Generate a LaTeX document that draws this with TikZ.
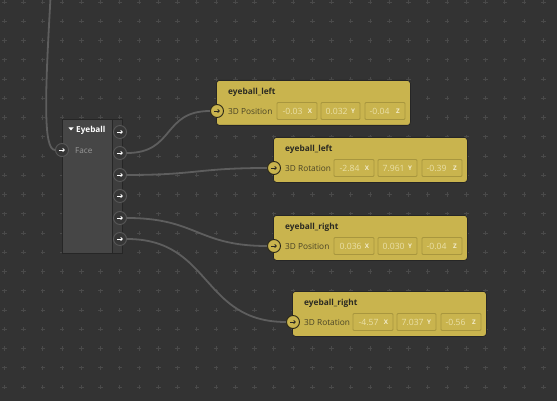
\documentclass[tikz,border=0pt]{standalone}
\usepackage{fontspec}
\setmainfont{Open Sans}
\usetikzlibrary{arrows.meta}
\definecolor{bg}{HTML}{333333}
\definecolor{gridc}{HTML}{4A4A4A}
\definecolor{wirec}{HTML}{5E5E5E}
\definecolor{nodebody}{HTML}{464646}
\definecolor{nodestrip}{HTML}{3D3D3D}
\definecolor{nodeedge}{HTML}{262626}
\definecolor{sockfill}{HTML}{363636}
\definecolor{sockedge}{HTML}{585858}
\definecolor{yel}{HTML}{C9B44E}
\definecolor{yeledge}{HTML}{2A2718}
\definecolor{yfieldedge}{HTML}{A8963E}
\definecolor{ytext}{HTML}{2B2A22}
\definecolor{ylab}{HTML}{4A4426}
\definecolor{yval}{HTML}{EAE0A8}
\definecolor{yaxis}{HTML}{F2ECCC}
\tikzset{
  wire/.style={draw=wirec, line width=1.8pt},
  gridcross/.style={draw=gridc, line width=0.8pt},
  sock/.style={circle, minimum size=13pt, inner sep=0pt, draw=sockedge, fill=sockfill, line width=0.9pt,
    path picture={\draw[white, line width=0.8pt, -{Straight Barb[length=1.6pt,width=3.2pt]}]
      ([xshift=-2.8pt]path picture bounding box.center) -- ([xshift=2.8pt]path picture bounding box.center);}},
  ysock/.style={circle, minimum size=13pt, inner sep=0pt, draw=yeledge, fill=yel, line width=0.9pt,
    path picture={\draw[ytext, line width=0.8pt, -{Straight Barb[length=1.6pt,width=3.2pt]}]
      ([xshift=-2.8pt]path picture bounding box.center) -- ([xshift=2.8pt]path picture bounding box.center);}},
  ybody/.style={rectangle, rounded corners=3pt, minimum width=194pt, minimum height=45pt, inner sep=0pt,
    fill=yel, draw=nodeedge, line width=0.8pt, anchor=north west},
  ytitle/.style={anchor=west, inner sep=0pt, text=ytext, font=\fontsize{8.3}{10}\selectfont\bfseries},
  ylabel/.style={anchor=west, inner sep=0pt, text=ylab, font=\fontsize{8.3}{10}\selectfont},
  yfield/.style={rectangle, rounded corners=1pt, minimum height=17pt, inner sep=0pt, draw=yfieldedge, line width=0.8pt},
  yvalue/.style={anchor=west, inner sep=0pt, text=yval, font=\fontsize{8.6}{10}\selectfont},
  yaxis/.style={anchor=center, inner sep=0pt, text=yaxis, font=\fontsize{6.3}{7}\selectfont\bfseries},
}
\newcommand\ynode[8]{%
  \begin{scope}[shift={(#2,#3)}]
    \node[ybody] (#1) at (0,0) {};
    \node[ytitle] (#1t) at (12,12) {#4};
    \node[ylabel] (#1l) at (12,31) {#5};
    \node[yfield, minimum width=40pt] (#1fa) at (81,31) {};
    \node[yfield, minimum width=39pt] (#1fb) at (124.5,31) {};
    \node[yfield, minimum width=40pt] (#1fc) at (169,31) {};
    \node[yvalue] (#1va) at (66.5,31) {#6};
    \node[yvalue] (#1vb) at (109.5,31) {#7};
    \node[yvalue] (#1vc) at (153.5,31) {#8};
    \node[yaxis] (#1xa) at (94,31) {X};
    \node[yaxis] (#1xb) at (137,31) {Y};
    \node[yaxis] (#1xc) at (182,31) {Z};
    \node[ysock] (#1s) at (1,31) {};
  \end{scope}}
\begin{document}
\begin{tikzpicture}[x=1pt, y=-1pt]
  \path[fill=bg] (0,0) rectangle (557,401);
  \useasboundingbox (0,0) rectangle (557,401);
  % grid
  \foreach \i in {0,...,28} {
    \foreach \j in {0,...,20} {
      \draw[gridcross] (4.3+19.25*\i-2.2, 2+19.25*\j) -- ++(4.4,0);
      \draw[gridcross] (4.3+19.25*\i, 2+19.25*\j-2.2) -- ++(0,4.4);
    }
  }
  % Eyeball node
  \node[rectangle, draw=nodeedge, fill=nodebody, line width=0.8pt, minimum width=50pt, minimum height=134pt, inner sep=0pt, anchor=north west] (eye) at (62,119) {};
  \node[rectangle, draw=nodeedge, fill=nodestrip, line width=0.8pt, minimum width=10pt, minimum height=134pt, inner sep=0pt, anchor=north west] (eyestrip) at (112,119) {};
  \fill[white] (68.5,127.5) -- (73.5,127.5) -- (71,130.5) -- cycle;
  \node[anchor=west, inner sep=0pt, text=white, font=\fontsize{8.2}{10}\selectfont\bfseries] (eyetitle) at (76,130) {Eyeball};
  \node[anchor=west, inner sep=0pt, text=white!60!black, font=\fontsize{8.2}{10}\selectfont] (facelabel) at (75,150.5) {Face};
  \node[sock] (face) at (62,150) {};
  \node[sock] (o1) at (120,132) {};
  \node[sock] (o2) at (120,153) {};
  \node[sock] (o3) at (120,175) {};
  \node[sock] (o4) at (120,196) {};
  \node[sock] (o5) at (120,218) {};
  \node[sock] (o6) at (120,239) {};
  % yellow nodes
  \ynode{na}{216}{80}{eyeball\_left}{3D Position}{-0.03}{0.032}{-0.04}
  \ynode{nb}{273}{137}{eyeball\_left}{3D Rotation}{-2.84}{7.961}{-0.39}
  \ynode{nc}{273}{215}{eyeball\_right}{3D Position}{0.036}{0.030}{-0.04}
  \ynode{nd}{292}{291}{eyeball\_right}{3D Rotation}{-4.57}{7.037}{-0.56}
  % wires
  \coordinate (topin) at (50.5,-2);
  \draw[wire] (topin) .. controls (45,95) and (43,150) .. (face.west);
  \draw[wire] (o2.east) .. controls +(48,0) and +(-48,0) .. (nas.west);
  \draw[wire] (o3.east) .. controls +(70,0) and +(-70,0) .. (nbs.west);
  \draw[wire] (o5.east) .. controls +(70,0) and +(-70,0) .. (ncs.west);
  \draw[wire] (o6.east) .. controls +(85,0) and +(-85,0) .. (nds.west);
\end{tikzpicture}
\end{document}
